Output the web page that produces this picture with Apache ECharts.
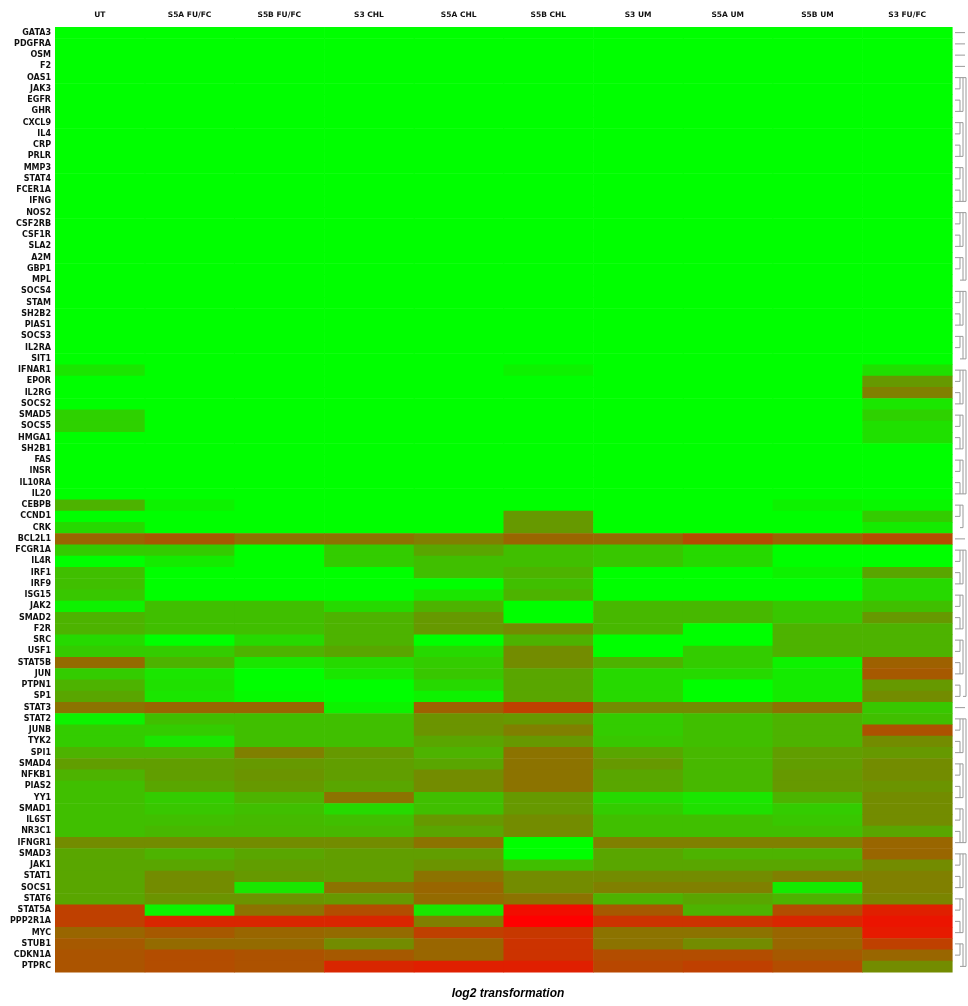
<!DOCTYPE html>
<html lang="en">
<head>
    <meta charset="UTF-8">
    <title>log2 transformation</title>
    <script src="https://cdn.jsdelivr.net/npm/echarts@6/dist/echarts.min.js"></script>
    <style>
        html, body { margin: 0; padding: 0; background: #fff; }
        #main { width: 968px; height: 1006px; }
    </style>
</head>
<body>
<div id="main"></div>
<script>
    // column labels (samples)
    var samples = ['UT', 'S5A FU/FC', 'S5B FU/FC', 'S3 CHL', 'S5A CHL', 'S5B CHL', 'S3 UM', 'S5A UM', 'S5B UM', 'S3 FU/FC'];

    // row labels (genes), top to bottom
    var genes = ['GATA3', 'PDGFRA', 'OSM', 'F2', 'OAS1', 'JAK3', 'EGFR', 'GHR', 'CXCL9', 'IL4',
        'CRP', 'PRLR', 'MMP3', 'STAT4', 'FCER1A', 'IFNG', 'NOS2', 'CSF2RB', 'CSF1R', 'SLA2',
        'A2M', 'GBP1', 'MPL', 'SOCS4', 'STAM', 'SH2B2', 'PIAS1', 'SOCS3', 'IL2RA', 'SIT1',
        'IFNAR1', 'EPOR', 'IL2RG', 'SOCS2', 'SMAD5', 'SOCS5', 'HMGA1', 'SH2B1', 'FAS', 'INSR',
        'IL10RA', 'IL20', 'CEBPB', 'CCND1', 'CRK', 'BCL2L1', 'FCGR1A', 'IL4R', 'IRF1', 'IRF9',
        'ISG15', 'JAK2', 'SMAD2', 'F2R', 'SRC', 'USF1', 'STAT5B', 'JUN', 'PTPN1', 'SP1',
        'STAT3', 'STAT2', 'JUNB', 'TYK2', 'SPI1', 'SMAD4', 'NFKB1', 'PIAS2', 'YY1', 'SMAD1',
        'IL6ST', 'NR3C1', 'IFNGR1', 'SMAD3', 'JAK1', 'STAT1', 'SOCS1', 'STAT6', 'STAT5A', 'PPP2R1A',
        'MYC', 'STUB1', 'CDKN1A', 'PTPRC'];

    // scaled expression, 0 = green, 1 = red (one array per sample, rows top to bottom)
    var ut = [
        0, 0, 0, 0, 0, 0, 0, 0, 0, 0,
        0, 0, 0, 0, 0, 0, 0, 0, 0, 0,
        0, 0, 0, 0, 0, 0, 0, 0, 0, 0,
        0.1, 0, 0, 0, 0.18, 0.18, 0, 0, 0, 0,
        0, 0, 0.3, 0, 0.15, 0.6, 0.2, 0, 0.25, 0.25,
        0.22, 0.05, 0.3, 0.3, 0.15, 0.2, 0.58, 0.2, 0.3, 0.35,
        0.55, 0.05, 0.2, 0.2, 0.3, 0.38, 0.3, 0.25, 0.25, 0.25,
        0.25, 0.25, 0.45, 0.35, 0.35, 0.35, 0.35, 0.35, 0.75, 0.75,
        0.6, 0.65, 0.67, 0.67];
    var s5aFuFc = [
        0, 0, 0, 0, 0, 0, 0, 0, 0, 0,
        0, 0, 0, 0, 0, 0, 0, 0, 0, 0,
        0, 0, 0, 0, 0, 0, 0, 0, 0, 0,
        0, 0, 0, 0, 0, 0, 0, 0, 0, 0,
        0, 0, 0.05, 0, 0, 0.65, 0.2, 0.08, 0, 0,
        0, 0.25, 0.25, 0.25, 0, 0.2, 0.3, 0.1, 0.12, 0.1,
        0.6, 0.25, 0.2, 0.1, 0.3, 0.38, 0.38, 0.35, 0.2, 0.22,
        0.25, 0.28, 0.45, 0.3, 0.35, 0.45, 0.45, 0.42, 0.05, 0.85,
        0.65, 0.58, 0.7, 0.7];
    var s5bFuFc = [
        0, 0, 0, 0, 0, 0, 0, 0, 0, 0,
        0, 0, 0, 0, 0, 0, 0, 0, 0, 0,
        0, 0, 0, 0, 0, 0, 0, 0, 0, 0,
        0, 0, 0, 0, 0, 0, 0, 0, 0, 0,
        0, 0, 0, 0, 0, 0.55, 0, 0, 0, 0,
        0, 0.25, 0.25, 0.25, 0.15, 0.3, 0.1, 0, 0, 0.02,
        0.6, 0.25, 0.25, 0.25, 0.5, 0.4, 0.42, 0.4, 0.3, 0.25,
        0.27, 0.28, 0.45, 0.35, 0.38, 0.4, 0.1, 0.42, 0.55, 0.85,
        0.6, 0.58, 0.68, 0.68];
    var s3Chl = [
        0, 0, 0, 0, 0, 0, 0, 0, 0, 0,
        0, 0, 0, 0, 0, 0, 0, 0, 0, 0,
        0, 0, 0, 0, 0, 0, 0, 0, 0, 0,
        0, 0, 0, 0, 0, 0, 0, 0, 0, 0,
        0, 0, 0, 0, 0, 0.55, 0.2, 0.2, 0, 0,
        0, 0.15, 0.3, 0.3, 0.3, 0.35, 0.15, 0.1, 0, 0,
        0.05, 0.25, 0.25, 0.25, 0.4, 0.38, 0.38, 0.35, 0.55, 0.15,
        0.25, 0.28, 0.45, 0.38, 0.38, 0.38, 0.55, 0.4, 0.7, 0.85,
        0.58, 0.45, 0.65, 0.85];
    var s5aChl = [
        0, 0, 0, 0, 0, 0, 0, 0, 0, 0,
        0, 0, 0, 0, 0, 0, 0, 0, 0, 0,
        0, 0, 0, 0, 0, 0, 0, 0, 0, 0,
        0, 0, 0, 0, 0, 0, 0, 0, 0, 0,
        0, 0, 0, 0, 0, 0.5, 0.35, 0.25, 0.25, 0,
        0.1, 0.3, 0.4, 0.4, 0, 0.15, 0.2, 0.22, 0.15, 0.05,
        0.62, 0.42, 0.42, 0.35, 0.3, 0.35, 0.45, 0.45, 0.25, 0.25,
        0.4, 0.35, 0.55, 0.38, 0.42, 0.55, 0.6, 0.58, 0.1, 0.5,
        0.75, 0.6, 0.6, 0.88];
    var s5bChl = [
        0, 0, 0, 0, 0, 0, 0, 0, 0, 0,
        0, 0, 0, 0, 0, 0, 0, 0, 0, 0,
        0, 0, 0, 0, 0, 0, 0, 0, 0, 0,
        0.05, 0, 0, 0, 0, 0, 0, 0, 0, 0,
        0, 0, 0, 0.4, 0.4, 0.6, 0.25, 0.25, 0.3, 0.25,
        0.3, 0, 0, 0.45, 0.3, 0.45, 0.45, 0.35, 0.35, 0.35,
        0.75, 0.4, 0.5, 0.4, 0.55, 0.55, 0.55, 0.55, 0.4, 0.4,
        0.45, 0.45, 0, 0, 0.25, 0.45, 0.45, 0.55, 0.95, 1,
        0.78, 0.8, 0.8, 0.88];
    var s3Um = [
        0, 0, 0, 0, 0, 0, 0, 0, 0, 0,
        0, 0, 0, 0, 0, 0, 0, 0, 0, 0,
        0, 0, 0, 0, 0, 0, 0, 0, 0, 0,
        0, 0, 0, 0, 0, 0, 0, 0, 0, 0,
        0, 0, 0, 0, 0, 0.58, 0.22, 0.22, 0, 0,
        0, 0.28, 0.28, 0.28, 0, 0, 0.3, 0.15, 0.15, 0.15,
        0.45, 0.2, 0.2, 0.22, 0.35, 0.4, 0.35, 0.35, 0.15, 0.2,
        0.25, 0.25, 0.5, 0.35, 0.35, 0.45, 0.5, 0.3, 0.65, 0.8,
        0.55, 0.55, 0.7, 0.72];
    var s5aUm = [
        0, 0, 0, 0, 0, 0, 0, 0, 0, 0,
        0, 0, 0, 0, 0, 0, 0, 0, 0, 0,
        0, 0, 0, 0, 0, 0, 0, 0, 0, 0,
        0, 0, 0, 0, 0, 0, 0, 0, 0, 0,
        0, 0, 0, 0, 0, 0.7, 0.15, 0.15, 0, 0,
        0, 0.28, 0.28, 0, 0, 0.2, 0.2, 0.15, 0, 0,
        0.45, 0.25, 0.25, 0.25, 0.28, 0.28, 0.28, 0.28, 0.1, 0.12,
        0.25, 0.25, 0.5, 0.3, 0.35, 0.45, 0.5, 0.35, 0.3, 0.8,
        0.55, 0.45, 0.7, 0.75];
    var s5bUm = [
        0, 0, 0, 0, 0, 0, 0, 0, 0, 0,
        0, 0, 0, 0, 0, 0, 0, 0, 0, 0,
        0, 0, 0, 0, 0, 0, 0, 0, 0, 0,
        0, 0, 0, 0, 0, 0, 0, 0, 0, 0,
        0, 0, 0.05, 0, 0, 0.6, 0, 0, 0.05, 0,
        0, 0.22, 0.22, 0.3, 0.3, 0.3, 0.05, 0.08, 0.08, 0.08,
        0.55, 0.3, 0.3, 0.3, 0.38, 0.38, 0.4, 0.4, 0.3, 0.2,
        0.22, 0.25, 0.5, 0.3, 0.35, 0.5, 0.08, 0.3, 0.7, 0.85,
        0.6, 0.6, 0.65, 0.7];
    var s3FuFc = [
        0, 0, 0, 0, 0, 0, 0, 0, 0, 0,
        0, 0, 0, 0, 0, 0, 0, 0, 0, 0,
        0, 0, 0, 0, 0, 0, 0, 0, 0, 0,
        0.12, 0.4, 0.5, 0.1, 0.18, 0.12, 0.12, 0, 0, 0,
        0, 0, 0.03, 0.2, 0.08, 0.7, 0, 0, 0.35, 0.15,
        0.15, 0.25, 0.4, 0.3, 0.3, 0.3, 0.62, 0.65, 0.4, 0.45,
        0.22, 0.25, 0.68, 0.45, 0.4, 0.45, 0.45, 0.42, 0.45, 0.45,
        0.45, 0.35, 0.6, 0.6, 0.45, 0.5, 0.5, 0.48, 0.88, 0.92,
        0.9, 0.75, 0.6, 0.45];

    var columns = [ut, s5aFuFc, s5bFuFc, s3Chl, s5aChl, s5bChl, s3Um, s5aUm, s5bUm, s3FuFc];

    // row dendrogram: single leaves and brackets [fromRow, toRow, level] (0-based rows)
    var dendroLeaves = [0, 1, 2, 3, 45, 60];
    var dendroLinks = [
        [4, 5, 1], [6, 7, 1], [8, 9, 1], [10, 11, 1], [12, 13, 1], [14, 15, 1], [16, 17, 1], [18, 19, 1],
        [20, 21, 1], [23, 24, 1], [25, 26, 1], [27, 28, 1], [30, 31, 1], [32, 33, 1], [34, 35, 1],
        [36, 37, 1], [38, 39, 1], [40, 41, 1], [42, 43, 1], [46, 47, 1], [48, 49, 1], [50, 51, 1],
        [52, 53, 1], [54, 55, 1], [56, 57, 1], [58, 59, 1], [61, 62, 1], [63, 64, 1], [65, 66, 1],
        [67, 68, 1], [69, 70, 1], [71, 72, 1], [73, 74, 1], [75, 76, 1], [77, 78, 1], [79, 80, 1],
        [81, 82, 1],
        [4, 7, 2], [8, 11, 2], [12, 15, 2], [16, 19, 2], [20, 22, 2], [23, 26, 2], [27, 29, 2],
        [30, 33, 2], [34, 37, 2], [38, 41, 2], [42, 44, 2], [46, 49, 2], [50, 53, 2], [54, 57, 2],
        [61, 64, 2], [65, 68, 2], [69, 72, 2], [73, 76, 2], [77, 80, 2], [81, 83, 2],
        [4, 15, 3], [16, 22, 3], [23, 29, 3], [30, 41, 3], [46, 59, 3], [61, 72, 3], [73, 83, 3]
    ];

    var heatData = [];
    for (var c = 0; c < columns.length; c++) {
        for (var r = 0; r < genes.length; r++) {
            heatData.push([c, r, columns[c][r]]);
        }
    }

    var dendroData = [];
    for (var i = 0; i < dendroLeaves.length; i++) {
        dendroData.push([dendroLeaves[i], dendroLeaves[i], 0]);
    }
    for (var j = 0; j < dendroLinks.length; j++) {
        dendroData.push(dendroLinks[j]);
    }

    var labelFont = 'DejaVu Sans';
    var lineColor = '#9a9a9a';

    var chartDom = document.getElementById('main');
    var myChart = echarts.init(chartDom, null, { renderer: 'canvas' });

    var option = {
        backgroundColor: '#ffffff',
        animation: false,
        title: {
            text: 'log2 transformation',
            left: 503,
            top: 983,
            textAlign: 'center',
            textStyle: {
                fontFamily: 'Liberation Sans',
                fontSize: 12,
                fontWeight: 'bold',
                fontStyle: 'italic',
                color: '#000'
            }
        },
        grid: {
            left: 55,
            right: 16,
            top: 27,
            bottom: 34
        },
        xAxis: {
            type: 'category',
            position: 'top',
            data: samples,
            axisLine: { show: false },
            axisTick: { show: false },
            splitLine: { show: false },
            axisLabel: {
                interval: 0,
                margin: 8,
                fontFamily: labelFont,
                fontSize: 7.5,
                fontWeight: 'bold',
                color: '#111'
            }
        },
        yAxis: {
            type: 'category',
            inverse: true,
            data: genes,
            axisLine: { show: false },
            axisTick: { show: false },
            splitLine: { show: false },
            axisLabel: {
                interval: 0,
                margin: 4,
                fontFamily: labelFont,
                fontSize: 8,
                fontWeight: 'bold',
                color: '#111'
            }
        },
        visualMap: {
            show: false,
            seriesIndex: 0,
            dimension: 2,
            min: 0,
            max: 1,
            inRange: {
                color: ['#00ff00', '#ff0000']
            }
        },
        series: [
            {
                // cells drawn as slightly overlapping rects so no seams show between them
                name: 'log2',
                type: 'custom',
                silent: true,
                encode: { x: 0, y: 1 },
                data: heatData,
                renderItem: function (params, api) {
                    var p = api.coord([api.value(0), api.value(1)]);
                    var size = api.size([1, 1]);
                    return {
                        type: 'rect',
                        shape: {
                            x: p[0] - size[0] / 2,
                            y: p[1] - size[1] / 2,
                            width: size[0] + 0.6,
                            height: size[1] + 0.6
                        },
                        style: { fill: api.visual('color') }
                    };
                }
            },
            {
                name: 'dendrogram',
                type: 'custom',
                clip: false,
                silent: true,
                data: dendroData,
                renderItem: function (params, api) {
                    var from = api.value(0);
                    var to = api.value(1);
                    var level = api.value(2);
                    var p0 = api.coord([9, from]);
                    var p1 = api.coord([9, to]);
                    var right = p0[0] + api.size([1, 0])[0] / 2;
                    var x0 = right + 3;
                    var step = 3;
                    var style = { stroke: lineColor, lineWidth: 1 };
                    if (level === 0) {
                        return {
                            type: 'line',
                            shape: { x1: x0, y1: p0[1], x2: x0 + 10, y2: p0[1] },
                            style: style
                        };
                    }
                    var xa = x0 + (level - 1) * step + (level === 1 ? 0 : 2);
                    var xb = x0 + level * step + 2;
                    return {
                        type: 'group',
                        children: [
                            { type: 'line', shape: { x1: xa, y1: p0[1], x2: xb, y2: p0[1] }, style: style },
                            { type: 'line', shape: { x1: xa, y1: p1[1], x2: xb, y2: p1[1] }, style: style },
                            { type: 'line', shape: { x1: xb, y1: p0[1], x2: xb, y2: p1[1] }, style: style }
                        ]
                    };
                }
            }
        ]
    };

    option && myChart.setOption(option);
</script>
</body>
</html>
